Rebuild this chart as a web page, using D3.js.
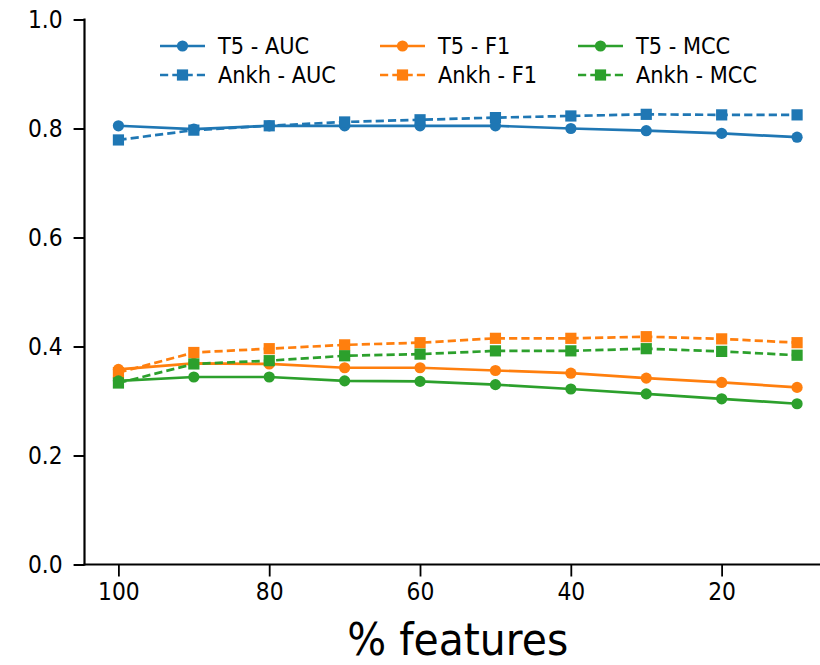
<!DOCTYPE html>
<html>
<head>
<meta charset="utf-8">
<script src="https://cdn.jsdelivr.net/npm/d3@7"></script>
<style>
  html, body { margin: 0; padding: 0; background: #fff; }
  svg { display: block; }
  text { font-family: "DejaVu Sans", sans-serif; fill: #000; }
</style>
</head>
<body>
<svg id="chart" width="820" height="665"></svg>
<script>
// Percentage of features kept (x axis runs from 100 down to 10)
const features = [100, 90, 80, 70, 60, 50, 40, 30, 20, 10];

// Scores per embedding model and metric
const t5AUC   = [0.805, 0.799, 0.805, 0.805, 0.805, 0.805, 0.800, 0.796, 0.791, 0.784];
const ankhAUC = [0.779, 0.797, 0.805, 0.812, 0.816, 0.820, 0.823, 0.826, 0.825, 0.825];
const t5F1    = [0.358, 0.369, 0.368, 0.361, 0.361, 0.356, 0.351, 0.342, 0.334, 0.325];
const ankhF1  = [0.352, 0.389, 0.396, 0.403, 0.407, 0.415, 0.415, 0.418, 0.414, 0.407];
const t5MCC   = [0.337, 0.344, 0.344, 0.337, 0.336, 0.330, 0.322, 0.313, 0.304, 0.295];
const ankhMCC = [0.333, 0.368, 0.374, 0.383, 0.386, 0.392, 0.392, 0.396, 0.391, 0.384];

const seriesNames = ["T5 - AUC", "Ankh - AUC", "T5 - F1", "Ankh - F1", "T5 - MCC", "Ankh - MCC"];
const yTicks = [0.0, 0.2, 0.4, 0.6, 0.8, 1.0];
const xTicks = [100, 80, 60, 40, 20];
const xLabel = "% features";

const series = [
  { name: seriesNames[0], values: t5AUC,   color: "#1f77b4", marker: "circle", dashed: false },
  { name: seriesNames[1], values: ankhAUC, color: "#1f77b4", marker: "square", dashed: true },
  { name: seriesNames[2], values: t5F1,    color: "#ff7f0e", marker: "circle", dashed: false },
  { name: seriesNames[3], values: ankhF1,  color: "#ff7f0e", marker: "square", dashed: true },
  { name: seriesNames[4], values: t5MCC,   color: "#2ca02c", marker: "circle", dashed: false },
  { name: seriesNames[5], values: ankhMCC, color: "#2ca02c", marker: "square", dashed: true }
];

// The figure is rendered slightly narrow horizontally
const sx = 0.91;
const svg = d3.select("#chart");
const root = svg.append("g").attr("transform", `scale(${sx},1)`);

const plotLeft = 84.5 / sx, plotRight = 831 / sx;
const plotTop = 19.5, plotBottom = 564.5;

const x = d3.scaleLinear().domain([104.5, 5.5]).range([plotLeft, plotRight]);
const y = d3.scaleLinear().domain([0, 1]).range([plotBottom, plotTop]);

// Axes
const yAxis = root.append("g")
  .attr("transform", `translate(${plotLeft},0)`)
  .call(d3.axisLeft(y).tickValues(yTicks).tickFormat(d3.format(".1f")).tickSize(12).tickPadding(12));
const xAxis = root.append("g")
  .attr("transform", `translate(0,${plotBottom})`)
  .call(d3.axisBottom(x).tickValues(xTicks).tickFormat(d3.format("d")).tickSize(12).tickPadding(6));

[yAxis, xAxis].forEach(a => {
  a.select(".domain").remove();
  a.selectAll(".tick line").attr("stroke", "#000").attr("stroke-width", 2);
  a.selectAll(".tick text").style("font-size", "24px").style("font-family", "DejaVu Sans, sans-serif").attr("fill", "#000");
});

// Spines (left and bottom only)
root.append("line").attr("x1", plotLeft).attr("x2", plotLeft).attr("y1", plotTop - 1).attr("y2", plotBottom + 1)
  .attr("stroke", "#000").attr("stroke-width", 2.4);
root.append("line").attr("x1", plotLeft - 1).attr("x2", plotRight).attr("y1", plotBottom).attr("y2", plotBottom)
  .attr("stroke", "#000").attr("stroke-width", 2.2);

// X axis title
root.append("text")
  .attr("x", (plotLeft + plotRight) / 2).attr("y", 655)
  .attr("text-anchor", "middle")
  .style("font-size", "45px")
  .text(xLabel);

const line = d3.line().x((d, i) => x(features[i])).y(d => y(d));
// Marker half-size; horizontal extent compensates for the group's x scaling
const r = 5.6, rx = r / sx;

function drawMarker(g, type, cx, cy, color) {
  if (type === "circle") {
    g.append("ellipse").attr("cx", cx).attr("cy", cy).attr("rx", rx).attr("ry", r).attr("fill", color);
  } else {
    g.append("rect").attr("x", cx - rx).attr("y", cy - r).attr("width", 2 * rx).attr("height", 2 * r).attr("fill", color);
  }
}

// Data lines with markers
series.forEach(s => {
  const g = root.append("g");
  g.append("path")
    .attr("d", line(s.values))
    .attr("fill", "none")
    .attr("stroke", s.color)
    .attr("stroke-width", 2.7)
    .attr("stroke-dasharray", s.dashed ? "9,4.5" : null);
  s.values.forEach((v, i) => drawMarker(g, s.marker, x(features[i]), y(v), s.color));
});

// Legend: three columns, filled column by column
const colX = [160, 380, 578];
const rowY = [46, 75];
const handleW = 45, textGap = 13;
series.forEach((s, i) => {
  const col = Math.floor(i / 2), row = i % 2;
  const x0 = colX[col] / sx, x1 = (colX[col] + handleW) / sx;
  const cy = rowY[row];
  const g = root.append("g");
  g.append("line").attr("x1", x0).attr("x2", x1).attr("y1", cy).attr("y2", cy)
    .attr("stroke", s.color).attr("stroke-width", 2.6)
    .attr("stroke-dasharray", s.dashed ? "9,4.5" : null);
  drawMarker(g, s.marker, (x0 + x1) / 2, cy, s.color);
  g.append("text")
    .attr("x", (colX[col] + handleW + textGap) / sx)
    .attr("y", cy).attr("dy", "0.36em")
    .style("font-size", "23px")
    .text(s.name);
});
</script>
</body>
</html>
